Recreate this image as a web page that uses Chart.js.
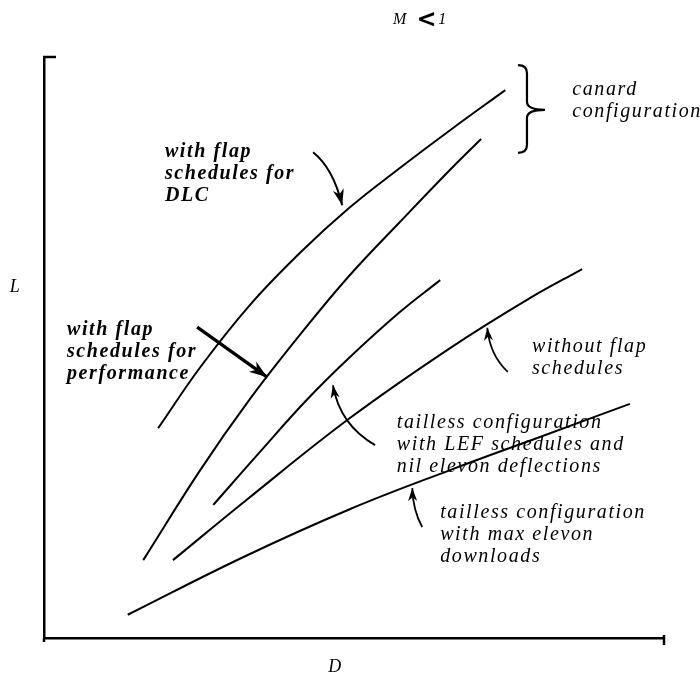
<!DOCTYPE html>
<html>
<head>
<meta charset="utf-8">
<script src="https://cdn.jsdelivr.net/npm/chart.js@4.4.1/dist/chart.umd.min.js"></script>
<style>
  html, body { margin: 0; padding: 0; background: #fff; }
  canvas { display: block; }
</style>
</head>
<body>
<canvas id="ldChart" width="700" height="677"></canvas>
<script>
// D (drag) and L (lift) readings for each curve, arbitrary units 0-100
const dlcD = [18.4, 25.2, 33.2, 41.3, 49.2, 57.4, 65.5, 74.4];
const dlcL = [36.1, 46.6, 57.3, 66.3, 74.0, 80.9, 87.4, 94.3];

const perfD = [16.0, 25.2, 33.2, 41.3, 49.2, 57.4, 65.5, 70.5];
const perfL = [13.4, 28.9, 41.1, 52.2, 62.3, 71.6, 80.6, 85.9];

const lefD = [27.3, 34.8, 42.4, 49.4, 57.4, 63.9];
const lefL = [22.9, 32.0, 41.0, 48.4, 56.1, 61.6];

const noFlapD = [20.8, 32.7, 49.4, 65.5, 77.9, 86.8];
const noFlapL = [13.4, 23.8, 37.9, 49.9, 58.2, 63.5];

const maxElevonD = [13.5, 32.1, 49.4, 65.5, 80.0, 94.5];
const maxElevonL = [4.0, 13.9, 22.2, 28.9, 34.6, 40.3];

const seriesNames = [
    'canard, flap schedules for DLC',
    'canard, flap schedules for performance',
    'tailless, LEF schedules, nil elevon',
    'without flap schedules',
    'tailless, max elevon downloads'
];

function toPoints(xs, ys) {
    return xs.map((x, i) => ({ x: x, y: ys[i] }));
}

// text notes and pointer arrows, placed in data units
const notes = [
    { lines: ['with flap', 'schedules for', 'DLC'], d: 19.5, l: 83.6, bold: true },
    { lines: ['with flap', 'schedules for', 'performance'], d: 3.7, l: 53.0, bold: true },
    { lines: ['canard', 'configuration'], d: 85.2, l: 94.3 },
    { lines: ['without flap', 'schedules'], d: 78.7, l: 50.1 },
    { lines: ['tailless configuration', 'with LEF schedules and', 'nil elevon deflections'], d: 56.9, l: 37.0 },
    { lines: ['tailless configuration', 'with max elevon', 'downloads'], d: 63.9, l: 21.5 }
];

const pointers = [
    { from: [43.4, 83.6], ctrl: [46.6, 80.9], to: [48.1, 74.5], w: 2, head: 16 },
    { from: [24.7, 53.5], to: [36.0, 44.9], w: 3.2, head: 18 },
    { from: [53.4, 33.2], ctrl: [47.7, 36.7], to: [46.6, 43.5], w: 1.8, head: 13 },
    { from: [74.8, 45.8], ctrl: [71.9, 48.7], to: [71.5, 53.4], w: 1.8, head: 13 },
    { from: [61.0, 19.1], ctrl: [59.5, 22.0], to: [59.4, 25.8], w: 1.8, head: 13 }
];

const brace = { d: 77.9, tip: 80.8, top: 98.6, mid: 90.9, bottom: 83.5 };

const noteFont = 'italic 20px "Liberation Serif"';
const noteBoldFont = 'italic bold 20px "Liberation Serif"';

const annotationPlugin = {
    id: 'annotationPlugin',
    afterDraw(chart) {
        const ctx = chart.ctx;
        const xs = chart.scales.x;
        const ys = chart.scales.y;
        const px = d => xs.getPixelForValue(d);
        const py = l => ys.getPixelForValue(l);
        const area = chart.chartArea;

        ctx.save();
        ctx.strokeStyle = '#000';
        ctx.fillStyle = '#000';

        // axis end caps
        ctx.lineWidth = 2.5;
        ctx.beginPath();
        ctx.moveTo(area.left - 1, area.top);
        ctx.lineTo(area.left + 12, area.top);
        ctx.moveTo(area.right, area.bottom - 3);
        ctx.lineTo(area.right, area.bottom + 7);
        ctx.moveTo(area.left, area.bottom);
        ctx.lineTo(area.left, area.bottom + 4);
        ctx.stroke();

        // title and axis letters
        ctx.textBaseline = 'middle';
        ctx.textAlign = 'left';
        ctx.font = 'italic 16px "Liberation Serif"';
        ctx.fillText('M', px(56.3), py(106.4));
        ctx.font = 'bold 24px "DejaVu Sans"';
        ctx.fillText('<', px(60.1), py(106.2));
        ctx.font = 'italic 16px "Liberation Serif"';
        ctx.fillText('1', px(63.6), py(106.4));

        ctx.textAlign = 'center';
        ctx.font = 'italic 18px "Liberation Serif"';
        ctx.fillText('L', px(-4.7), py(60.4));
        ctx.fillText('D', px(46.9), py(-5.0));

        // notes
        ctx.textAlign = 'left';
        ctx.letterSpacing = '1.6px';
        notes.forEach(n => {
            ctx.font = n.bold ? noteBoldFont : noteFont;
            n.lines.forEach((t, i) => {
                ctx.fillText(t, px(n.d), py(n.l) + i * 22);
            });
        });
        ctx.letterSpacing = '0px';

        // pointer arrows
        pointers.forEach(p => {
            const x0 = px(p.from[0]), y0 = py(p.from[1]);
            const x1 = px(p.to[0]), y1 = py(p.to[1]);
            let cx = x0, cy = y0;
            ctx.lineWidth = p.w;
            ctx.beginPath();
            ctx.moveTo(x0, y0);
            if (p.ctrl) {
                cx = px(p.ctrl[0]);
                cy = py(p.ctrl[1]);
                ctx.quadraticCurveTo(cx, cy, x1, y1);
            } else {
                ctx.lineTo(x1, y1);
            }
            ctx.stroke();
            const ang = Math.atan2(y1 - cy, x1 - cx);
            const h = p.head;
            ctx.beginPath();
            ctx.moveTo(x1, y1);
            ctx.lineTo(x1 - h * Math.cos(ang) + h * 0.35 * Math.sin(ang), y1 - h * Math.sin(ang) - h * 0.35 * Math.cos(ang));
            ctx.lineTo(x1 - h * 0.7 * Math.cos(ang), y1 - h * 0.7 * Math.sin(ang));
            ctx.lineTo(x1 - h * Math.cos(ang) - h * 0.35 * Math.sin(ang), y1 - h * Math.sin(ang) + h * 0.35 * Math.cos(ang));
            ctx.closePath();
            ctx.fill();
        });

        // brace for the canard curves
        const bx = px(brace.d), tx = px(brace.tip);
        const yt = py(brace.top), ym = py(brace.mid), yb = py(brace.bottom);
        ctx.lineWidth = 2.2;
        ctx.beginPath();
        ctx.moveTo(bx - 9, yt);
        ctx.quadraticCurveTo(bx, yt, bx, yt + 8);
        ctx.lineTo(bx, ym - 8);
        ctx.quadraticCurveTo(bx, ym, tx, ym);
        ctx.quadraticCurveTo(bx, ym, bx, ym + 8);
        ctx.lineTo(bx, yb - 8);
        ctx.quadraticCurveTo(bx, yb, bx - 9, yb);
        ctx.stroke();

        ctx.restore();
    }
};

const curveStyle = {
    showLine: true,
    borderColor: '#000',
    backgroundColor: '#000',
    borderWidth: 2,
    pointRadius: 0,
    tension: 0.4,
    fill: false
};

const datasets = [
    toPoints(dlcD, dlcL),
    toPoints(perfD, perfL),
    toPoints(lefD, lefL),
    toPoints(noFlapD, noFlapL),
    toPoints(maxElevonD, maxElevonL)
].map((pts, i) => ({ ...curveStyle, label: seriesNames[i], data: pts }));

const axisCommon = {
    min: 0,
    max: 100,
    grid: { display: false, drawTicks: false },
    ticks: { display: false },
    border: { display: true, color: '#000', width: 2.5 }
};

new Chart(document.getElementById('ldChart').getContext('2d'), {
    type: 'scatter',
    data: { datasets: datasets },
    options: {
        responsive: false,
        animation: false,
        layout: { padding: { left: 44, top: 57, right: 36, bottom: 39 } },
        plugins: {
            legend: { display: false },
            tooltip: { enabled: false }
        },
        scales: {
            x: { ...axisCommon, type: 'linear', position: 'bottom' },
            y: { ...axisCommon, type: 'linear', position: 'left' }
        }
    },
    plugins: [annotationPlugin]
});
</script>
</body>
</html>
